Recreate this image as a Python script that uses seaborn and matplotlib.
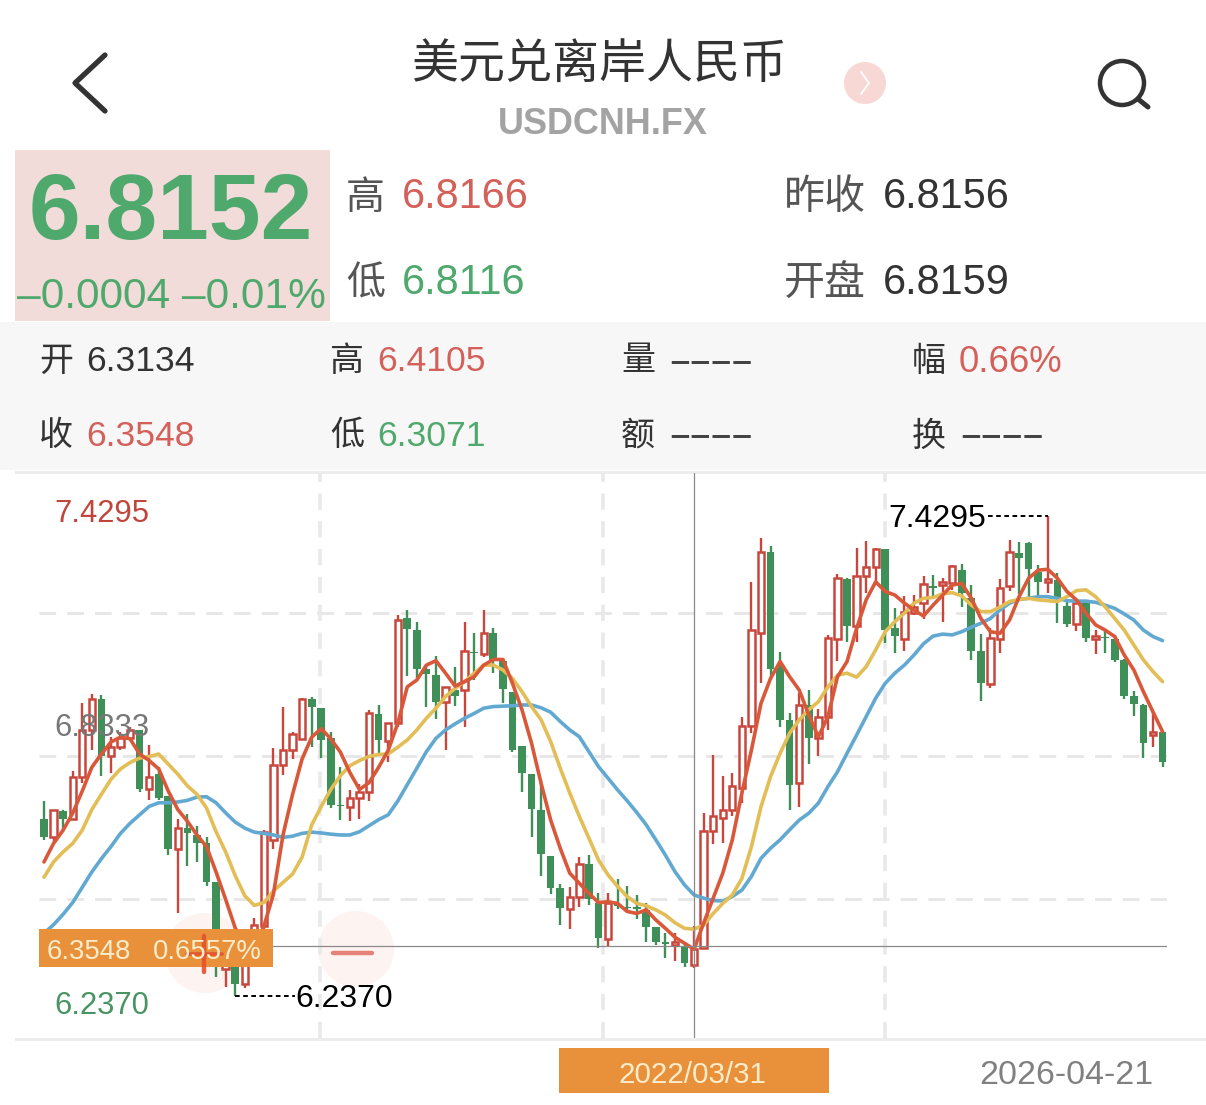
import numpy as np
import pandas as pd
import matplotlib
matplotlib.use("Agg")
import matplotlib.pyplot as plt
import seaborn as sns
from matplotlib.patches import Rectangle, Circle

opens = [6.676,6.631,6.697,6.676,6.781,6.899,6.975,6.833,6.855,6.879,6.897,6.752,6.788,6.735,6.603,6.654,6.637,6.616,6.521,6.305,
6.343,6.267,6.343,6.410,6.624,6.811,6.849,6.876,6.975,6.952,6.878,6.712,6.707,6.728,6.744,6.938,6.870,6.916,7.175,7.146,
7.049,7.035,6.967,6.996,6.997,7.092,7.086,7.138,7.068,6.991,6.857,6.789,6.699,6.586,6.506,6.453,6.484,6.564,6.469,6.379,
6.466,6.459,6.459,6.451,6.408,6.370,6.364,6.361,6.3134,6.357,6.647,6.678,6.699,6.753,6.908,7.140,7.339,7.057,6.923,6.765,
6.960,6.877,6.929,7.124,7.273,7.155,7.281,7.302,7.347,7.150,7.124,7.188,7.213,7.256,7.257,7.264,7.295,7.225,7.093,7.011,
7.124,7.256,7.338,7.362,7.291,7.266,7.271,7.206,7.160,7.217,7.124,7.130,7.123,7.072,6.982,6.960,6.885,6.892]
closes = [6.633,6.700,6.677,6.781,6.899,6.975,6.834,6.855,6.878,6.899,6.752,6.781,6.729,6.603,6.654,6.641,6.618,6.521,6.343,6.360,
6.267,6.343,6.414,6.645,6.811,6.849,6.887,6.975,6.954,6.872,6.712,6.708,6.729,6.744,6.939,6.872,6.916,7.170,7.148,7.049,
7.036,6.968,7.004,6.983,7.094,7.088,7.140,7.072,6.999,6.848,6.790,6.701,6.589,6.506,6.455,6.482,6.565,6.478,6.380,6.469,
6.461,6.455,6.454,6.409,6.372,6.366,6.371,6.320,6.3548,6.647,6.684,6.699,6.759,6.908,7.146,7.341,7.049,6.923,6.760,6.960,
6.879,6.931,7.126,7.275,7.155,7.281,7.304,7.348,7.146,7.132,7.192,7.203,7.260,7.251,7.266,7.305,7.237,7.095,7.014,7.126,
7.251,7.341,7.326,7.297,7.266,7.273,7.225,7.160,7.213,7.126,7.131,7.126,7.072,6.983,6.962,6.865,6.893,6.819]
highs = [6.721,6.700,6.700,6.796,6.965,6.988,6.985,6.881,6.893,6.906,6.899,6.860,6.805,6.735,6.676,6.689,6.660,6.631,6.521,6.393,
6.360,6.360,6.431,6.650,6.853,6.956,6.893,6.977,6.980,6.952,6.893,6.807,6.748,6.763,6.948,6.960,6.916,7.183,7.196,7.167,
7.059,7.082,7.004,7.055,7.165,7.140,7.196,7.150,7.076,6.992,6.859,6.789,6.774,6.586,6.515,6.507,6.583,6.587,6.492,6.494,
6.528,6.510,6.488,6.469,6.409,6.393,6.393,6.372,6.4105,6.691,6.836,6.784,6.790,6.931,7.266,7.374,7.355,7.092,6.939,6.989,
6.997,6.949,7.134,7.285,7.275,7.349,7.367,7.349,7.347,7.200,7.231,7.233,7.281,7.283,7.275,7.308,7.310,7.258,7.136,7.150,
7.272,7.370,7.366,7.366,7.308,7.4295,7.287,7.217,7.217,7.222,7.146,7.146,7.134,7.074,6.995,6.962,6.943,6.894]
lows = [6.624,6.620,6.645,6.676,6.765,6.847,6.784,6.792,6.847,6.872,6.744,6.725,6.725,6.587,6.444,6.559,6.570,6.511,6.284,6.259,
6.2370,6.256,6.339,6.402,6.603,6.786,6.826,6.872,6.855,6.828,6.704,6.675,6.672,6.677,6.721,6.838,6.818,6.906,7.033,7.026,
6.954,6.924,6.848,6.958,6.906,7.022,7.080,7.040,6.966,6.844,6.745,6.631,6.534,6.490,6.413,6.404,6.459,6.463,6.356,6.362,
6.452,6.447,6.428,6.370,6.364,6.332,6.325,6.308,6.3071,6.357,6.614,6.618,6.683,6.716,6.890,7.014,7.022,6.906,6.699,6.707,
6.813,6.832,6.898,7.068,7.117,7.117,7.239,7.262,7.113,7.088,7.095,7.184,7.173,7.229,7.167,7.246,7.204,7.072,6.971,7.001,
7.088,7.242,7.236,7.225,7.229,7.239,7.163,7.153,7.145,7.116,7.086,7.088,7.066,6.975,6.933,6.828,6.856,6.807]
ma5 = [6.570,6.616,6.649,6.691,6.746,6.805,6.838,6.868,6.880,6.876,6.838,6.822,6.801,6.746,6.700,6.671,6.637,6.608,6.545,6.477,
6.406,6.365,6.355,6.410,6.490,6.637,6.738,6.826,6.880,6.901,6.876,6.843,6.792,6.750,6.767,6.805,6.847,6.914,7.005,7.022,
7.059,7.070,7.039,7.007,7.018,7.030,7.059,7.073,7.073,7.014,6.948,6.865,6.765,6.674,6.604,6.542,6.517,6.492,6.469,6.471,
6.467,6.447,6.442,6.451,6.426,6.405,6.383,6.368,6.353,6.418,6.480,6.542,6.625,6.741,6.848,6.964,7.026,7.068,7.030,6.997,
6.935,6.881,6.931,7.030,7.068,7.150,7.221,7.266,7.242,7.233,7.213,7.196,7.181,7.208,7.233,7.258,7.262,7.225,7.175,7.142,
7.138,7.171,7.229,7.275,7.295,7.297,7.275,7.242,7.221,7.188,7.159,7.146,7.130,7.084,7.047,6.993,6.943,6.894]
ma10 = [6.532,6.570,6.595,6.616,6.649,6.700,6.738,6.775,6.801,6.817,6.828,6.832,6.838,6.813,6.788,6.759,6.738,6.704,6.645,6.595,
6.536,6.486,6.462,6.469,6.498,6.519,6.540,6.582,6.662,6.708,6.750,6.784,6.809,6.822,6.832,6.837,6.838,6.855,6.873,6.898,
6.927,6.952,6.981,7.001,7.018,7.039,7.059,7.059,7.047,7.026,6.993,6.956,6.923,6.869,6.803,6.741,6.683,6.629,6.575,6.538,
6.509,6.484,6.467,6.461,6.451,6.438,6.419,6.405,6.403,6.413,6.442,6.467,6.488,6.529,6.608,6.707,6.782,6.840,6.890,6.923,
6.948,6.968,7.005,7.034,7.039,7.029,7.055,7.097,7.142,7.167,7.188,7.213,7.225,7.227,7.236,7.239,7.231,7.208,7.192,7.192,
7.203,7.217,7.222,7.225,7.221,7.219,7.217,7.229,7.244,7.246,7.229,7.204,7.175,7.146,7.109,7.072,7.043,7.018]
ma20 = [6.393,6.414,6.440,6.469,6.507,6.545,6.578,6.608,6.641,6.666,6.687,6.708,6.717,6.717,6.719,6.723,6.731,6.732,6.717,6.692,
6.669,6.654,6.644,6.641,6.637,6.631,6.634,6.641,6.644,6.642,6.639,6.637,6.637,6.645,6.660,6.675,6.687,6.721,6.762,6.803,
6.844,6.877,6.898,6.913,6.927,6.939,6.952,6.956,6.957,6.958,6.960,6.960,6.953,6.942,6.919,6.898,6.881,6.844,6.807,6.778,
6.749,6.722,6.693,6.662,6.625,6.587,6.546,6.513,6.488,6.480,6.474,6.473,6.484,6.500,6.534,6.579,6.604,6.625,6.650,6.674,
6.691,6.716,6.757,6.794,6.840,6.885,6.931,6.977,7.014,7.039,7.059,7.084,7.112,7.131,7.136,7.134,7.142,7.153,7.163,7.175,
7.196,7.213,7.222,7.225,7.229,7.229,7.225,7.219,7.218,7.218,7.215,7.208,7.200,7.186,7.171,7.146,7.130,7.120]

max_idx, max_label = 105, "7.4295"
min_idx, min_label = 20, "6.2370"
mid_label = "6.8333"
cross_idx = 68
cross_level = 6.360
grid_levels = [7.1885, 6.8333, 6.478]
date_ticks = [28.87, 58.47, 87.97]
cross_date = "2022/03/31"
last_date = "2026-04-21"
title = "美元兑离岸人民币"
symbol = "USDCNH.FX"

RED, GREEN = "#c8463c", "#3f8f58"
TXT_RED, TXT_GREEN, DARK = "#d4605a", "#4fa86c", "#333333"
ORANGE = "#e8913a"

W, H = 1206, 1105
sns.set_theme(style="white")
plt.rcParams["font.family"] = ["Liberation Sans", "Noto Sans CJK SC", "DejaVu Sans"]
CJK = ["Noto Sans CJK SC", "DejaVu Sans"]

fig = plt.figure(figsize=(W / 100, H / 100), dpi=100, facecolor="white")

def pxaxes(z):
    a = fig.add_axes([0, 0, 1, 1], zorder=z)
    a.set_xlim(0, W); a.set_ylim(H, 0); a.axis("off"); a.patch.set_alpha(0)
    return a

bg = pxaxes(0)
fg = pxaxes(3)

def T(a, x, y, s, px, color=DARK, ha="left", **kw):
    return a.text(x, y, s, fontsize=px * 0.72, color=color, ha=ha, va="center_baseline", **kw)

def C(a, x, y, s, px, color="#555555", ha="left", **kw):
    return T(a, x, y, s, px, color, ha, family=CJK, **kw)

# header
C(bg, 599, 59, title, 47, "#333333", ha="center")
T(bg, 603, 120, symbol, 36, "#a3a3a3", ha="center", fontweight="bold")
bg.plot([105, 75, 105], [55, 83, 111], color="#333333", lw=3.8, solid_capstyle="round", solid_joinstyle="round")
bg.add_patch(Circle((1122, 83), 22, fill=False, ec="#333333", lw=3.2))
bg.plot([1138, 1148], [99, 107], color="#333333", lw=3.6, solid_capstyle="round")
bg.add_patch(Circle((865, 83), 21, fc="#f7d8d4", ec="none"))
bg.plot([861, 869, 861], [72, 83, 94], color="white", lw=1.3)

bg.add_patch(Rectangle((15, 150), 315, 171, fc="#f1dcda", ec="none"))
T(bg, 171, 206, "6.8152", 93, TXT_GREEN, ha="center", fontweight="bold")
T(bg, 17, 293, "–0.0004 –0.01%", 42.5, TXT_GREEN)
C(bg, 346, 193, "高", 39); T(bg, 402, 193, "6.8166", 41.5, TXT_RED)
C(bg, 346, 279, "低", 39); T(bg, 402, 279, "6.8116", 41.5, TXT_GREEN)
C(bg, 784, 193, "昨收", 41); T(bg, 883, 193, "6.8156", 41.5, "#333333")
C(bg, 784, 279, "开盘", 41); T(bg, 883, 279, "6.8159", 41.5, "#333333")

bg.add_patch(Rectangle((0, 322), W, 148, fc="#f7f7f7", ec="none"))
bg.add_patch(Rectangle((15, 471), W - 15, 3, fc="#ececec", ec="none"))
bg.add_patch(Rectangle((15, 1038), W - 15, 3, fc="#ececec", ec="none"))
rows = [358, 433]
C(bg, 39, rows[0] - 1, "开", 34, DARK); T(bg, 86, rows[0], "6.3134", 35.5)
C(bg, 39, rows[1] - 1, "收", 34, DARK); T(bg, 86, rows[1], "6.3548", 35.5, TXT_RED)
C(bg, 330, rows[0] - 1, "高", 34, DARK); T(bg, 377, rows[0], "6.4105", 35.5, TXT_RED)
C(bg, 330, rows[1] - 1, "低", 34, DARK); T(bg, 377, rows[1], "6.3071", 35.5, TXT_GREEN)
C(bg, 621, rows[0] - 1, "量", 34, DARK); C(bg, 669, rows[0], "––––", 39, "#444444")
C(bg, 621, rows[1] - 1, "额", 34, DARK); C(bg, 669, rows[1], "––––", 39, "#444444")
C(bg, 912, rows[0] - 1, "幅", 34, DARK); T(bg, 959, rows[0], "0.66%", 36.5, TXT_RED)
C(bg, 912, rows[1] - 1, "换", 34, DARK); C(bg, 960, rows[1], "––––", 39, "#444444")

# pale touch circles behind the chart
bg.add_patch(Circle((205, 953), 40, fc="#fdf3f1", ec="none"))
bg.add_patch(Circle((356, 949), 38, fc="#fdf3f1", ec="none"))

# chart
ax = fig.add_axes([39 / W, 1 - 1038 / H, (1167 - 39) / W, (1038 - 473) / H], zorder=1)
ax.patch.set_alpha(0)
ax.set_xlim(-0.523, 117.47)
ax.set_ylim(6.1326, 7.5363)
ax.axis("off")

idx = np.arange(len(opens))
o, c, h, l = map(np.array, (opens, closes, highs, lows))
up = c >= o

for lv in grid_levels:
    ax.axhline(lv, color="#e6e6e6", lw=2, dashes=(6, 4), zorder=1)
for t in date_ticks:
    ax.axvline(t, color="#e9e9e9", lw=2.6, dashes=(4.5, 3.2), zorder=1)

colors = np.where(up, RED, GREEN)
ax.vlines(idx, l, h, colors=colors, lw=1.7, zorder=2)
ax.bar(idx[up], (c - o)[up], bottom=o[up], width=0.66, facecolor="white", edgecolor=RED, linewidth=1.8, zorder=3)
ax.bar(idx[~up], (o - c)[~up], bottom=c[~up], width=0.8, facecolor=GREEN, edgecolor="none", zorder=3)

ma = pd.DataFrame({"idx": np.tile(idx, 3),
                   "value": ma5 + ma10 + ma20,
                   "series": ["MA5"] * 118 + ["MA10"] * 118 + ["MA20"] * 118})
sns.lineplot(data=ma, x="idx", y="value", hue="series", hue_order=["MA20", "MA10", "MA5"],
             palette={"MA5": "#d9583a", "MA10": "#e3bd55", "MA20": "#62a9d2"},
             estimator=None, sort=False, legend=False, lw=2.6, zorder=4, ax=ax)
ax.set_xlabel(""); ax.set_ylabel("")
ax.set_xlim(-0.523, 117.47); ax.set_ylim(6.1326, 7.5363)

ax.axvline(cross_idx, color="#8a8a8a", lw=0.9, zorder=5)
ax.plot([-0.523, 117.47], [cross_level, cross_level], color="#8a8a8a", lw=0.9, zorder=5)

# max / min callouts
ax.plot([98.7, max_idx], [highs[max_idx]] * 2, color="black", lw=1.4, dashes=(2.4, 1.8), zorder=5)
ax.plot([min_idx, min_idx + 6.3], [lows[min_idx]] * 2, color="black", lw=1.4, dashes=(2.4, 1.8), zorder=5)
T(ax, 98.5, highs[max_idx], max_label, 32, "black", ha="right", zorder=6)
T(ax, min_idx + 6.3, lows[min_idx], min_label, 32, "black", zorder=6)

# range labels
T(fg, 54, 511, max_label, 31, "#c0453a")
T(fg, 54, 725, mid_label, 31, "#777777")
T(fg, 54, 1003, min_label, 31, "#4a9463")

# crosshair value label and zoom buttons
fg.add_patch(Rectangle((39, 929), 234, 38, fc=ORANGE, ec="none"))
T(fg, 47, 949, "6.3548", 27.5, "#fbeccb")
T(fg, 153, 949, "0.6557%", 27.5, "#fbeccb")
fg.plot([187, 222], [954, 954], color="#e4502e", lw=2.6, alpha=0.9)
fg.plot([204, 204], [936, 972], color="#e4502e", lw=3.2, alpha=0.9)
fg.plot([333, 372], [953, 953], color="#e5837a", lw=3.2)

# date strip
fg.add_patch(Rectangle((559, 1048), 270, 45, fc=ORANGE, ec="none"))
T(fg, 693, 1072, cross_date, 29.5, "#fbeccb", ha="center")
T(fg, 1153, 1072, last_date, 34, "#808080", ha="right")

fig.savefig("out.png", dpi=100, facecolor="white")
